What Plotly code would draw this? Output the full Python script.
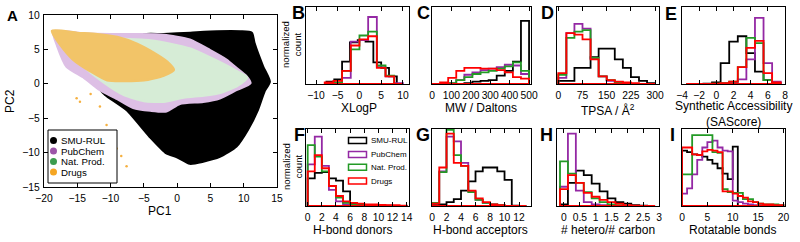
import plotly.graph_objects as go

W, H = 800, 242
FONT = "Liberation Sans, Arial, sans-serif"

# ---------------- data ----------------
series_names = ["SMU-RUL", "PubChem", "Nat. Prod.", "Drugs"]

# Panel A: outlines of the PCA point clouds (PC1, PC2)
smu_pc1 = [-11.5, -6.0, -2.0, 2.0, 6.0, 9.5, 11.2, 11.6, 12.9, 13.9, 13.1, 12.1, 10.6, 8.9, 6.4, 3.9, 1.9, -0.1, -1.6, -4.1, -7.6, -10.8]
smu_pc2 = [-0.8, 7.0, 7.2, 7.4, 7.6, 7.6, 7.4, 5.9, 2.5, 0.3, -1.1, -3.8, -6.7, -9.1, -10.6, -11.3, -11.6, -10.6, -10.1, -7.7, -3.8, -1.6]
pub_pc1 = [-18.6, -14, -10, -6, -2, 1.9, 4.9, 7.4, 8.9, 10.4, 11.0, 8.9, 6.4, 3.9, 0.4, -1.6, -4, -6.6, -9, -11.6, -14, -16.6, -18]
pub_pc2 = [7.6, 7.3, 7.2, 7.2, 7.1, 6.4, 4.9, 3.5, 2.3, 1.1, 0.1, -0.9, -2.1, -2.6, -2.9, -4.0, -3.9, -3.5, -2.2, -0.9, 0.9, 2.5, 5.5]
nat_pc1 = [-16, -12, -8, -4, -1, 2, 5, 7.5, 9, 10.5, 9, 6.5, 4, 1, -2, -5, -8, -11, -14]
nat_pc2 = [6.6, 6.6, 6.5, 6.3, 5.8, 5.1, 3.8, 2.6, 1.8, 0.9, -0.3, -1.3, -1.7, -2.0, -2.6, -2.5, -1.6, 0.2, 2.6]
drug_pc1 = [-18.8, -15, -12, -9, -6, -3.5, -1.5, -0.5, -2, -5, -8, -10.5, -13, -15.6, -17.5]
drug_pc2 = [7.7, 7.4, 7.2, 6.8, 5.8, 4.5, 3.2, 2.0, 1.2, 0.5, 0.4, 0.5, 1.8, 3.5, 5.6]
drug_out_pc1 = [-15.1, -14.6, -11.6, -10.6, -9.1, -8.4, -7.6, -13.0]
drug_out_pc2 = [-2.1, -2.6, -3.3, -6.0, -9.4, -10.5, -12.0, -1.5]

# Panel B: XLogP
b_edges = [-8, -6, -4, -2, 0, 2, 4, 6, 8, 10]
b_smu_edges = [-7.6, -5.8, -4.0, -2.2, -0.4, 1.4, 3.2, 5.0, 6.8, 8.6]
b_smu = [0.03, 0.06, 0.29, 0.54, 0.57, 0.55, 0.28, 0.21, 0.10]
b_pub = [0.0, 0.01, 0.08, 0.55, 0.57, 0.87, 0.22, 0.10, 0.01]
b_nat = [0.0, 0.02, 0.17, 0.45, 0.63, 0.68, 0.24, 0.11, 0.0]
b_drug = [0.02, 0.04, 0.17, 0.50, 0.58, 0.62, 0.21, 0.10, 0.0]

# Panel C: MW
c_edges = [0, 41.7, 83.3, 125, 166.7, 208.3, 250, 291.7, 333.3, 375, 416.7, 458.3, 500]
c_smu = [0, 0, 0, 0, 0.01, 0.03, 0.04, 0.05, 0.11, 0.17, 0.29, 0.82]
c_pub = [0, 0, 0.01, 0.05, 0.12, 0.15, 0.18, 0.20, 0.22, 0.25, 0.24, 0.13]
c_nat = [0, 0, 0.01, 0.05, 0.09, 0.13, 0.15, 0.17, 0.20, 0.23, 0.28, 0.17]
c_drug = [0, 0.02, 0.08, 0.17, 0.21, 0.21, 0.20, 0.20, 0.18, 0.15, 0.09, 0.07]

# Panel D: TPSA
d_edges = [0, 25, 50, 75, 100, 125, 150, 175, 200, 225, 250, 275, 300]
d_smu = [0.04, 0.04, 0.21, 0.21, 0.35, 0.46, 0.46, 0.32, 0.21, 0.09, 0.04, 0.01]
d_pub = [0.08, 0.66, 0.78, 0.72, 0.33, 0.10, 0.04, 0.02, 0.01, 0, 0, 0]
d_nat = [0.12, 0.60, 0.68, 0.70, 0.34, 0.10, 0.05, 0.02, 0.01, 0, 0, 0]
d_drug = [0.14, 0.66, 0.64, 0.58, 0.32, 0.10, 0.05, 0.03, 0.02, 0.01, 0, 0]

# Panel E: SAScore
e_edges = [-3.5, -2.5, -1.5, -0.5, 0.5, 1.5, 2.5, 3.5, 4.5, 5.5, 6.5, 7.5]
e_smu = [0, 0, 0.005, 0.02, 0.27, 0.55, 0.62, 0.40, 0.16, 0.05, 0.01]
e_pub = [0, 0, 0, 0, 0.005, 0.02, 0.06, 0.32, 0.86, 0.27, 0.03]
e_nat = [0, 0, 0, 0.005, 0.01, 0.03, 0.22, 0.60, 0.53, 0.05, 0]
e_drug = [0, 0, 0, 0.005, 0.01, 0.03, 0.22, 0.47, 0.56, 0.14, 0.02]

# Panel F: H-bond donors
f_edges = [0, 1, 2, 3, 4, 5, 6, 7, 8, 9, 10, 11, 12, 13, 14]
f_smu = [0.36, 0.43, 0.44, 0.36, 0.33, 0.19, 0.03, 0.02, 0.01, 0.01, 0.005, 0.003, 0.002, 0.001]
f_pub = [0.54, 0.90, 0.52, 0.21, 0.06, 0.02, 0.01, 0.005, 0, 0, 0, 0, 0, 0]
f_nat = [0.79, 0.64, 0.45, 0.26, 0.11, 0.04, 0.02, 0.01, 0.005, 0, 0, 0, 0, 0]
f_drug = [0.45, 0.66, 0.49, 0.26, 0.13, 0.06, 0.04, 0.03, 0.02, 0.02, 0.015, 0.01, 0.01, 0.005]

# Panel G: H-bond acceptors
g_edges = [0, 1, 2, 3, 4, 5, 6, 7, 8, 9, 10, 11, 12, 13]
g_smu = [0.01, 0.02, 0.05, 0.09, 0.20, 0.32, 0.45, 0.50, 0.50, 0.45, 0.34, 0.005, 0]
g_pub = [0.04, 0.45, 0.90, 0.84, 0.56, 0.19, 0.08, 0.04, 0.02, 0.01, 0, 0, 0]
g_nat = [0.04, 0.44, 0.99, 0.66, 0.52, 0.18, 0.08, 0.04, 0.02, 0.01, 0, 0, 0]
g_drug = [0.03, 0.50, 0.94, 0.56, 0.52, 0.20, 0.10, 0.05, 0.02, 0.01, 0, 0, 0]

# Panel H: hetero / carbon
h_edges = [-0.125, 0.125, 0.375, 0.625, 0.875, 1.125, 1.375, 1.625, 1.875, 2.125, 2.375, 2.625, 2.875]
h_smu = [0.02, 0.30, 0.46, 0.40, 0.29, 0.19, 0.10, 0.05, 0.03, 0.01, 0.005, 0]
h_pub = [0.25, 0.94, 0.20, 0.05, 0.02, 0.01, 0.005, 0, 0, 0, 0, 0]
h_nat = [0.58, 0.42, 0.30, 0.18, 0.10, 0.05, 0.02, 0.01, 0, 0, 0, 0]
h_drug = [0.22, 0.40, 0.30, 0.17, 0.12, 0.08, 0.05, 0.03, 0.01, 0.005, 0, 0]

# Panel I: rotatable bonds
i_edges = list(range(0, 21))
i_smu = [0.72, 0.70, 0.67, 0.66, 0.64, 0.60, 0.55, 0.49, 0.42, 0.35, 0.77, 0, 0, 0, 0, 0, 0, 0, 0, 0]
i_pub = [0.16, 0.23, 0.41, 0.60, 0.76, 0.83, 0.85, 0.76, 0.72, 0.71, 0.07, 0.05, 0.03, 0.02, 0.01, 0.01, 0, 0, 0, 0]
i_nat = [0.41, 0.41, 0.92, 0.92, 0.92, 0.92, 0.70, 0.69, 0.22, 0.18, 0.17, 0.17, 0.09, 0.09, 0.05, 0.03, 0.02, 0.02, 0.02, 0.01]
i_drug = [0.76, 0.76, 0.67, 0.66, 0.71, 0.73, 0.72, 0.70, 0.19, 0.19, 0.16, 0.13, 0.11, 0.06, 0.05, 0.03, 0.02, 0.02, 0.01, 0.01]

# tick values / labels
a_xticks = [-20, -15, -10, -5, 0, 5, 10, 15]
a_yticks = [-15, -10, -5, 0, 5, 10]
b_ticks = [-10, -5, 0, 5, 10]
c_ticks = [0, 100, 200, 300, 400, 500]
d_ticks = [0, 75, 150, 225, 300]
e_ticks = [-4, -2, 0, 2, 4, 6, 8]
f_ticks = [0, 2, 4, 6, 8, 10, 12, 14]
g_ticks = [0, 2, 4, 6, 8, 10, 12]
h_ticks = [0, 0.5, 1, 1.5, 2, 2.5, 3]
h_labels = ["0", "0.5", "1", "1.5", "2", "2.5", "3"]
i_ticks = [0, 5, 10, 15, 20]

# ---------------- styling ----------------
LINE_COLORS = ["#000000", "#9428A4", "#239A26", "#FF0000"]
DOT_COLORS = ["#000000", "#9C55A8", "#3C9C4E", "#F5A623"]


def lab(v):
    return ("%g" % v).replace("-", "\u2212")


def stairs(edges, h):
    n = len(h)
    x = [edges[0], edges[0]] + list(edges[1:n]) + [edges[n], edges[0]]
    y = [0, h[0]] + list(h[1:]) + [0, 0]
    return x, y


def dx(a, b):
    return [a / W, b / W]


def dy(a, b):
    return [1 - b / H, 1 - a / H]


fig = go.Figure()

# ---- Panel A ----
for xs, ys, col in [(smu_pc1, smu_pc2, "#000000"),
                    (pub_pc1, pub_pc2, "#DDBFE5"),
                    (nat_pc1, nat_pc2, "#D6ECD6"),
                    (drug_pc1, drug_pc2, "#F2C468")]:
    fig.add_trace(go.Scatter(x=xs + [xs[0]], y=ys + [ys[0]], mode="lines", fill="toself",
                             fillcolor=col, line=dict(color=col, width=2.5, shape="spline", smoothing=0.6),
                             xaxis="x", yaxis="y", hoverinfo="skip"))
fig.add_trace(go.Scatter(x=drug_out_pc1, y=drug_out_pc2, mode="markers",
                         marker=dict(color="#F5B040", size=2.5), xaxis="x", yaxis="y", hoverinfo="skip"))

# ---- Histograms ----
panels = [
    ("2", [b_smu_edges, b_edges, b_edges, b_edges], [b_smu, b_pub, b_nat, b_drug]),
    ("3", [c_edges] * 4, [c_smu, c_pub, c_nat, c_drug]),
    ("4", [d_edges] * 4, [d_smu, d_pub, d_nat, d_drug]),
    ("5", [e_edges] * 4, [e_smu, e_pub, e_nat, e_drug]),
    ("6", [f_edges] * 4, [f_smu, f_pub, f_nat, f_drug]),
    ("7", [g_edges] * 4, [g_smu, g_pub, g_nat, g_drug]),
    ("8", [h_edges] * 4, [h_smu, h_pub, h_nat, h_drug]),
    ("9", [i_edges] * 4, [i_smu, i_pub, i_nat, i_drug]),
]
for ax, edges_list, hs in panels:
    for k in range(4):
        x, y = stairs(edges_list[k], hs[k])
        fig.add_trace(go.Scatter(x=x, y=y, mode="lines", line=dict(color=LINE_COLORS[k], width=1.8, shape="hv"),
                                 xaxis="x" + ax, yaxis="y" + ax, name=series_names[k], hoverinfo="skip"))

axis_common = dict(showline=True, linecolor="black", linewidth=1.3, mirror="ticks", ticks="inside",
                   ticklen=4, tickwidth=1, tickcolor="black", showgrid=False, zeroline=False, tickangle=0,
                   tickfont=dict(family=FONT, size=10.3, color="black"), ticklabelstandoff=1)
yhist = dict(showline=True, linecolor="black", linewidth=1.3, mirror=True, ticks="",
             showticklabels=False, showgrid=False, zeroline=False, range=[0, 1])

col_x = [(306, 409), (432, 531), (557, 659), (682, 785)]
top_y = (7, 84)
bot_y = (129, 206)

layout = dict(width=W, height=H, margin=dict(l=0, r=0, t=0, b=0, autoexpand=False), paper_bgcolor="white",
              plot_bgcolor="white", showlegend=False, hovermode=False, font=dict(family=FONT, color="black"))

layout["xaxis"] = dict(axis_common, domain=dx(44, 277), range=[-20, 15], tickvals=a_xticks,
                       ticktext=[lab(v) for v in a_xticks], anchor="y")
layout["yaxis"] = dict(axis_common, domain=dy(15, 187), range=[-15, 10], tickvals=a_yticks,
                       ticktext=[lab(v) for v in a_yticks], anchor="x")

specs = [
    ("2", col_x[0], top_y, [-12.3, 11.4], b_ticks, None),
    ("3", col_x[1], top_y, [0, 510], c_ticks, None),
    ("4", col_x[2], top_y, [-4, 312], d_ticks, None),
    ("5", col_x[3], top_y, [-4, 8], e_ticks, None),
    ("6", col_x[0], bot_y, [-0.24, 14.33], f_ticks, None),
    ("7", col_x[1], bot_y, [0, 13.65], g_ticks, None),
    ("8", col_x[2], bot_y, [-0.22, 3.0], h_ticks, h_labels),
    ("9", col_x[3], bot_y, [0, 20.3], i_ticks, None),
]
for ax, cx, cy, rng, tv, tt in specs:
    layout["xaxis" + ax] = dict(axis_common, domain=dx(*cx), range=rng, tickvals=tv,
                                ticktext=tt if tt else [lab(v) for v in tv], anchor="y" + ax)
    layout["yaxis" + ax] = dict(yhist, domain=dy(*cy), anchor="x" + ax)

fig.update_layout(**layout)


def ann(x, y, text, size, bold=False, angle=0, xanchor="center", color="black"):
    fig.add_annotation(x=x / W, y=1 - y / H, xref="paper", yref="paper",
                       text=("<b>%s</b>" % text) if bold else text,
                       showarrow=False, xanchor=xanchor, yanchor="middle", textangle=angle,
                       font=dict(family=FONT, size=size, color=color))


# panel letters
ann(12, 15, "A", 15, bold=True)
for letter, x, y in [("B", 298, 13), ("C", 423, 13), ("D", 547, 13), ("E", 671, 14),
                     ("F", 299, 135), ("G", 423, 135), ("H", 546, 135), ("I", 672, 135)]:
    ann(x, y, letter, 18, bold=True)

# axis titles
ann(160, 211, "PC1", 12)
ann(10, 101, "PC2", 12, angle=-90)
ann(359, 108, "XLogP", 12)
ann(481, 108, "MW / Daltons", 12)
ann(608, 110, "TPSA / Å<sup>2</sup>", 12)
ann(733, 114, "Synthetic Accessibility<br>(SAScore)", 12)
ann(352, 230, "H-bond donors", 12)
ann(481, 230, "H-bond acceptors", 12)
ann(608, 230, "# hetero/# carbon", 12)
ann(732, 230, "Rotatable bonds", 12)
ann(292, 45, "normalized<br>count", 9.6, angle=-90)
ann(292, 167, "normalized<br>count", 9.6, angle=-90)

# legend for panel A
fig.add_shape(type="rect", xref="paper", yref="paper", x0=48 / W, x1=117 / W, y0=1 - 183 / H, y1=1 - 130 / H,
              line=dict(color="black", width=1), fillcolor="white")
for k, yy in enumerate([140.5, 151, 161.5, 172]):
    fig.add_shape(type="circle", xref="paper", yref="paper", x0=50 / W, x1=57 / W,
                  y0=1 - (yy + 3.5) / H, y1=1 - (yy - 3.5) / H,
                  line=dict(color=DOT_COLORS[k], width=0), fillcolor=DOT_COLORS[k])
    ann(58.5, yy, series_names[k], 9.7, xanchor="left")

# legend for panel F
for k, yy in enumerate([140.5, 154.5, 167.3, 181]):
    fig.add_shape(type="rect", xref="paper", yref="paper", x0=348.5 / W, x1=366.5 / W,
                  y0=1 - (yy + 3) / H, y1=1 - (yy - 3) / H, line=dict(color=LINE_COLORS[k], width=1.5),
                  fillcolor="rgba(0,0,0,0)")
    ann(368.5, yy, series_names[k], 8, xanchor="left")

fig.write_html("out.html", config={"displayModeBar": False},
               post_script="document.body.style.margin='0px';")
